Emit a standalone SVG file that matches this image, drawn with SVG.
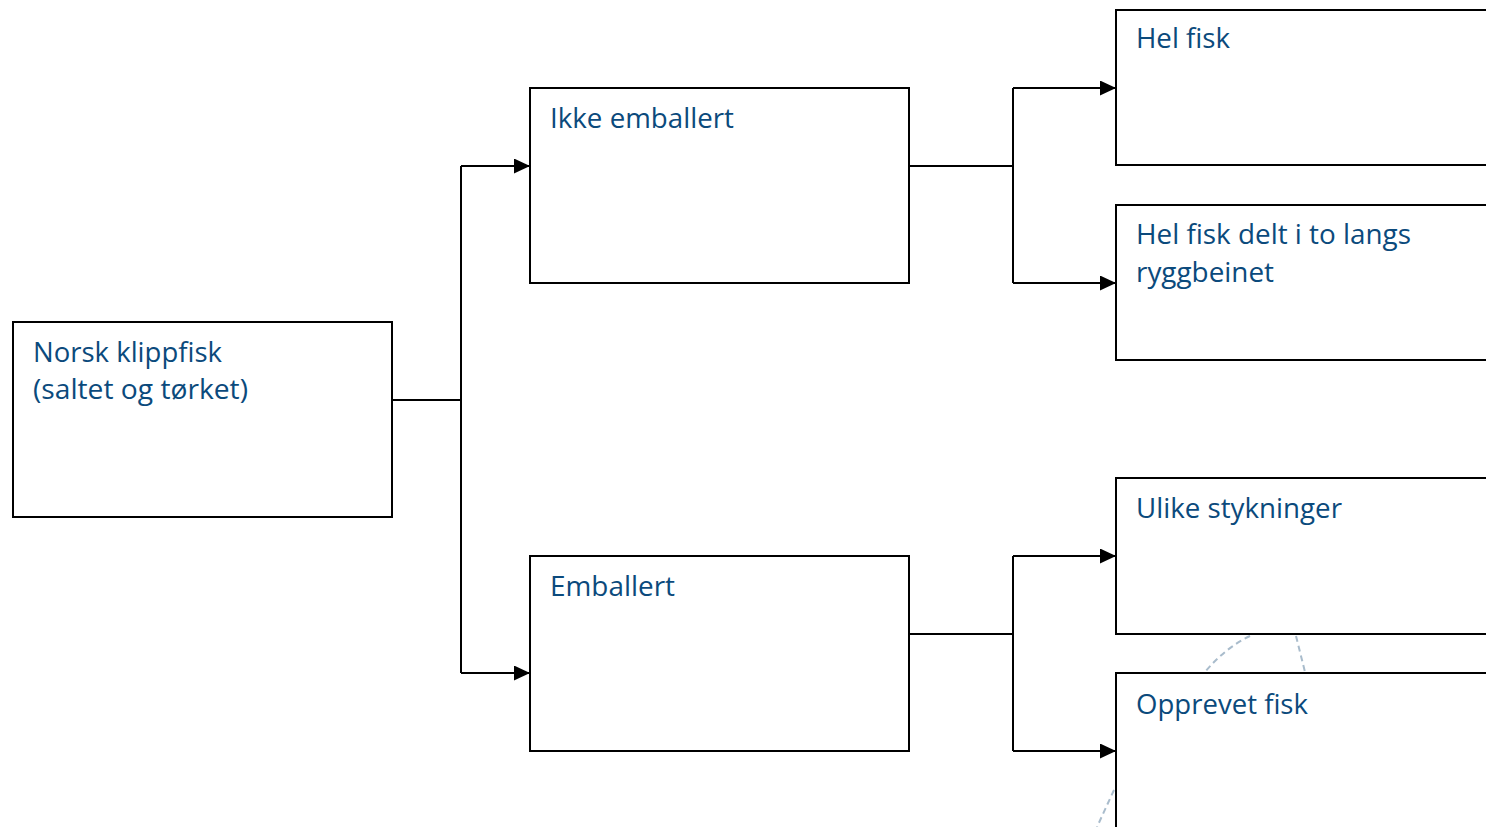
<svg xmlns="http://www.w3.org/2000/svg" width="1486" height="827" viewBox="0 0 1486 827">
<defs>
<style>
.box{fill:#fff;stroke:#000;stroke-width:2}
.lbl{font-family:"Open Sans","Noto Sans","Liberation Sans",sans-serif;font-size:27px;fill:#0b4a7c}
.con{fill:none;stroke:#000;stroke-width:2}
.dash{fill:none;stroke:#a9bccc;stroke-width:2;stroke-dasharray:6 4}
</style>
<marker id="arr" viewBox="0 0 16 15" refX="16" refY="7.5" markerWidth="16" markerHeight="15" markerUnits="userSpaceOnUse" orient="auto">
<path d="M0,0 L16,7.5 L0,15 z" fill="#000"/>
</marker>
</defs>
<rect width="1486" height="827" fill="#fff"/>
<g id="decor">
<path class="dash" d="M1250,636 Q1225,648 1205,672"/>
<path class="dash" d="M1296,636 L1305,672"/>
<path class="dash" d="M1114,790 L1097,827"/>
</g>
<g id="connectors">
<path class="con" d="M392,400 H461"/>
<path class="con" d="M461,166 V673"/>
<path class="con" d="M461,166 H530" marker-end="url(#arr)"/>
<path class="con" d="M461,673 H530" marker-end="url(#arr)"/>
<path class="con" d="M909,166 H1013"/>
<path class="con" d="M1013,88 V283"/>
<path class="con" d="M1013,88 H1116" marker-end="url(#arr)"/>
<path class="con" d="M1013,283 H1116" marker-end="url(#arr)"/>
<path class="con" d="M909,634 H1013"/>
<path class="con" d="M1013,556 V751"/>
<path class="con" d="M1013,556 H1116" marker-end="url(#arr)"/>
<path class="con" d="M1013,751 H1116" marker-end="url(#arr)"/>
</g>
<g id="n-root">
<rect class="box" x="13" y="322" width="379" height="195"/>
<text class="lbl" x="33" y="362" textLength="189" lengthAdjust="spacingAndGlyphs">Norsk klippfisk</text>
<text class="lbl" x="33" y="399" textLength="215" lengthAdjust="spacingAndGlyphs">(saltet og tørket)</text>
</g>
<g id="n-ikke">
<rect class="box" x="530" y="88" width="379" height="195"/>
<text class="lbl" x="550" y="128" textLength="184" lengthAdjust="spacingAndGlyphs">Ikke emballert</text>
</g>
<g id="n-emb">
<rect class="box" x="530" y="556" width="379" height="195"/>
<text class="lbl" x="550" y="596" textLength="125" lengthAdjust="spacingAndGlyphs">Emballert</text>
</g>
<g id="n-hel">
<rect class="box" x="1116" y="10" width="380" height="155"/>
<text class="lbl" x="1136" y="48" textLength="94" lengthAdjust="spacingAndGlyphs">Hel fisk</text>
</g>
<g id="n-delt">
<rect class="box" x="1116" y="205" width="380" height="155"/>
<text class="lbl" x="1136" y="244" textLength="275" lengthAdjust="spacingAndGlyphs">Hel fisk delt i to langs</text>
<text class="lbl" x="1136" y="282" textLength="138" lengthAdjust="spacingAndGlyphs">ryggbeinet</text>
</g>
<g id="n-ulike">
<rect class="box" x="1116" y="478" width="380" height="156"/>
<text class="lbl" x="1136" y="518" textLength="206" lengthAdjust="spacingAndGlyphs">Ulike stykninger</text>
</g>
<g id="n-opp">
<rect class="box" x="1116" y="673" width="380" height="170"/>
<text class="lbl" x="1136" y="714" textLength="172" lengthAdjust="spacingAndGlyphs">Opprevet fisk</text>
</g>
</svg>
